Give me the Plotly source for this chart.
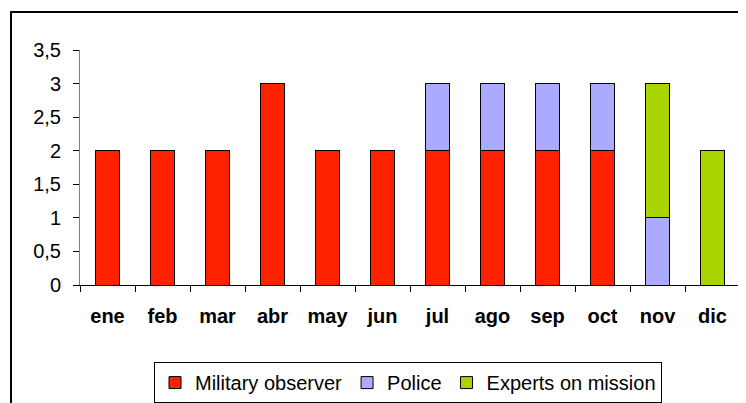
import plotly.graph_objects as go

months = ["ene", "feb", "mar", "abr", "may", "jun", "jul", "ago", "sep", "oct", "nov", "dic"]
military = [2, 2, 2, 3, 2, 2, 2, 2, 2, 2, 0, 0]
police = [0, 0, 0, 0, 0, 0, 1, 1, 1, 1, 1, 0]
experts = [0, 0, 0, 0, 0, 0, 0, 0, 0, 0, 2, 2]
y_ticks = [0, 0.5, 1, 1.5, 2, 2.5, 3, 3.5]
y_labels = ["0", "0,5", "1", "1,5", "2", "2,5", "3", "3,5"]

FONT = "Liberation Sans, Arial, sans-serif"
line = dict(color="#000000", width=1)

fig = go.Figure()
fig.add_trace(go.Bar(x=months, y=military, name="Military observer",
                     marker=dict(color="#FF2200", line=line)))
fig.add_trace(go.Bar(x=months, y=police, name="Police",
                     marker=dict(color="#AAAAFF", line=line)))
fig.add_trace(go.Bar(x=months, y=experts, name="Experts on mission",
                     marker=dict(color="#AAD400", line=line)))

# page body has an 8px margin, so offsets are shifted up/left by 8px
fig.update_layout(
    width=746,
    height=403,
    barmode="stack",
    bargap=0.56,
    paper_bgcolor="white",
    plot_bgcolor="white",
    font=dict(family=FONT, color="#000000", size=18),
    margin=dict(l=72, r=14, t=42, b=126, autoexpand=False),
    showlegend=True,
    legend=dict(
        orientation="h",
        x=0.497, xanchor="center",
        y=-0.328, yanchor="top",
        bordercolor="#000000", borderwidth=1,
        font=dict(size=20),
        traceorder="normal",
        itemwidth=30,
    ),
    shapes=[
        dict(type="rect", xref="paper", yref="paper",
             x0=-0.1045, x1=1.2, y0=-0.7, y1=1.162,
             line=dict(color="#000000", width=2), layer="below"),
    ],
)

fig.update_xaxes(
    showline=True, linecolor="#000000", linewidth=1,
    ticks="outside", tickson="boundaries", ticklen=6, tickcolor="#000000",
    tickfont=dict(size=20, family=FONT, weight="bold"),
    ticklabelstandoff=13,
    showgrid=False, automargin=False,
)
fig.update_yaxes(
    range=[0, 3.5],
    tickvals=y_ticks, ticktext=y_labels,
    showline=True, linecolor="#808080", linewidth=1,
    ticks="outside", ticklen=6, tickcolor="#000000",
    tickfont=dict(size=20),
    ticklabelstandoff=8,
    showgrid=False, zeroline=False, automargin=False,
)

fig.write_html("out.html")
